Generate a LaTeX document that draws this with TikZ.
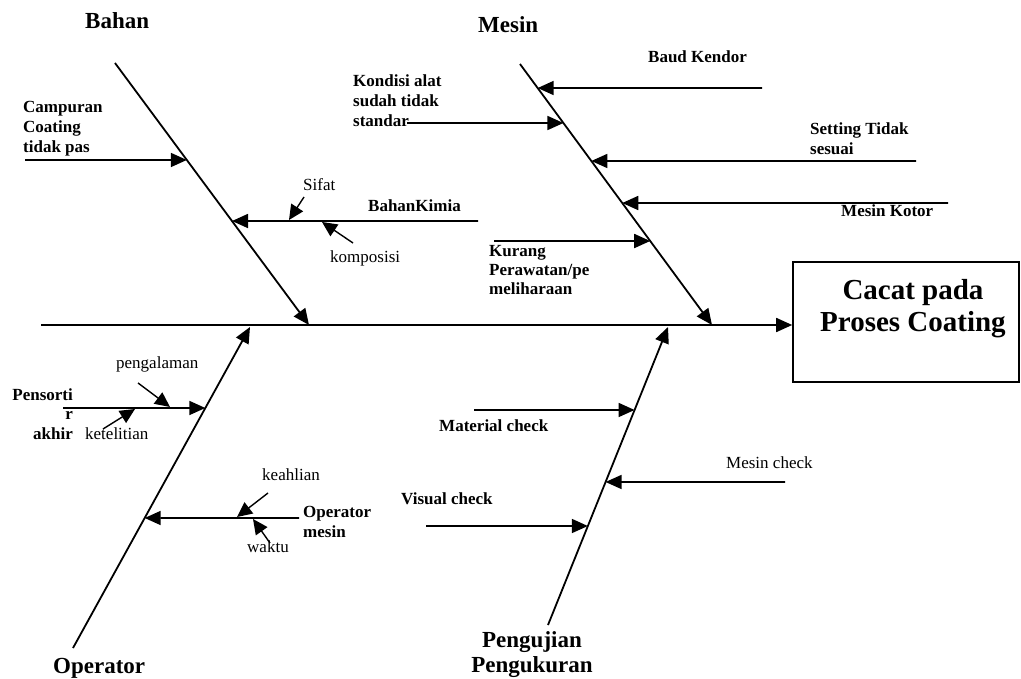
\documentclass[tikz,border=0pt]{standalone}
\usepackage{fontspec}
\setmainfont{Liberation Serif}
\usetikzlibrary{arrows.meta,calc}
\newcommand{\mylinesl}[1]{\begin{tabular}[t]{@{}l@{}}#1\end{tabular}}
\newcommand{\mylinesr}[1]{\begin{tabular}[t]{@{}r@{}}#1\end{tabular}}
\newcommand{\mylinesc}[1]{\begin{tabular}[t]{@{}c@{}}#1\end{tabular}}
\begin{document}
\begin{tikzpicture}[x=1pt,y=-1pt,
  bone/.style={line width=1.8pt,-{Triangle[length=16pt,width=14pt]}},
  twig/.style={line width=1.7pt,-{Triangle[length=16pt,width=14pt]}},
  tiny/.style={line width=1.4pt,-{Triangle[length=15pt,width=14pt]}},
  head/.style={font=\fontsize{23}{25}\selectfont\bfseries,inner sep=0pt},
  lbl/.style={font=\fontsize{17}{20}\selectfont\bfseries,inner sep=0pt,anchor=base west},
  sml/.style={font=\fontsize{17}{20}\selectfont,inner sep=0pt,anchor=base west},
  effbox/.style={draw,line width=1.6pt,minimum width=226pt,minimum height=120pt,inner sep=0pt}]
\useasboundingbox (0,0) rectangle (1021,679);

% effect
\node[effbox] (eff) at (906,322) {};
\node[font=\fontsize{29}{32}\selectfont\bfseries,inner sep=0pt,anchor=base] (efftxt) at (913,300) {\mylinesc{Cacat pada\\Proses Coating}};

% spine
\coordinate (spL) at (41,325);
\draw[bone] (spL) -- (eff.west |- spL);

% main bones
\coordinate (bahanT) at (115,63);  \coordinate (bahanE) at (309,325);
\coordinate (mesinT) at (520,64);  \coordinate (mesinE) at (712,325);
\coordinate (operT) at (73,648);   \coordinate (operE) at (250,327);
\coordinate (ujiT) at (548,625);   \coordinate (ujiE) at (668,327);
\draw[bone] (bahanT) -- (bahanE);
\draw[bone] (mesinT) -- (mesinE);
\draw[bone] (operT) -- (operE);
\draw[bone] (ujiT) -- (ujiE);

% headings
\node[head,anchor=base west] (hBahan) at (85,29) {Bahan};
\node[head,anchor=base west] (hMesin) at (478,33) {Mesin};
\node[head,anchor=base west] (hOper) at (53,673) {Operator};
\node[head,anchor=base] (hUji) at (532,647) {\mylinesc{Pengujian\\Pengukuran}};

% ---- Bahan
\coordinate (campS) at (25,160);
\coordinate (campE) at ($(bahanT)!0.3702!(bahanE)$);
\draw[twig] (campS) -- (campE);
\node[lbl] (tCamp) at (23,113) {\mylinesl{Campuran\\Coating\\tidak pas}};

\coordinate (kimS) at (478,221);
\coordinate (kimE) at ($(bahanT)!0.6031!(bahanE)$);
\draw[twig] (kimS) -- (kimE);
\node[lbl] (tKim) at (368,212) {BahanKimia};

\coordinate (sifS) at (304,197); \coordinate (sifE) at (289,220);
\draw[tiny] (sifS) -- (sifE);
\node[sml] (tSif) at (303,191) {Sifat};
\coordinate (komS) at (353,243); \coordinate (komE) at (322,222);
\draw[tiny] (komS) -- (komE);
\node[sml] (tKom) at (330,263) {komposisi};

% ---- Mesin
\coordinate (baudS) at (762,88);
\coordinate (baudE) at ($(mesinT)!0.0920!(mesinE)$);
\draw[twig] (baudS) -- (baudE);
\node[lbl] (tBaud) at (648,63) {Baud Kendor};

\coordinate (kondS) at (407,123);
\coordinate (kondE) at ($(mesinT)!0.2261!(mesinE)$);
\draw[twig] (kondS) -- (kondE);
\node[lbl] (tKond) at (353,87) {\mylinesl{Kondisi alat\\sudah tidak\\standar}};

\coordinate (setS) at (916,161);
\coordinate (setE) at ($(mesinT)!0.3716!(mesinE)$);
\draw[twig] (setS) -- (setE);
\node[lbl] (tSet) at (810,135) {\mylinesl{Setting Tidak\\sesuai}};

\coordinate (kotS) at (948,203);
\coordinate (kotE) at ($(mesinT)!0.5326!(mesinE)$);
\draw[twig] (kotS) -- (kotE);
\node[lbl] (tKot) at (841,217) {Mesin Kotor};

\coordinate (kurS) at (494,241);
\coordinate (kurE) at ($(mesinT)!0.6782!(mesinE)$);
\draw[twig] (kurS) -- (kurE);
\node[lbl,font=\fontsize{17}{19}\selectfont\bfseries] (tKur) at (489,257) {\mylinesl{Kurang\\Perawatan/pe\\meliharaan}};

% ---- Operator
\coordinate (sortS) at (63,408);
\coordinate (sortE) at ($(operT)!0.7477!(operE)$);
\draw[twig] (sortS) -- (sortE);
\node[lbl,anchor=base east,font=\fontsize{17}{19.5}\selectfont\bfseries] (tSort) at (73,400) {\mylinesr{Pensorti\\r\\akhir}};

\coordinate (pengS) at (138,383); \coordinate (pengE) at (170,407);
\draw[tiny] (pengS) -- (pengE);
\node[sml] (tPeng) at (116,369) {pengalaman};
\coordinate (telS) at (103,429); \coordinate (telE) at (135,409);
\draw[tiny] (telS) -- (telE);
\node[sml] (tTel) at (85,439) {ketelitian};

\coordinate (opmS) at (299,518);
\coordinate (opmE) at ($(operT)!0.4050!(operE)$);
\draw[twig] (opmS) -- (opmE);
\node[lbl] (tOpm) at (303,517) {\mylinesl{Operator\\mesin}};

\coordinate (ahlS) at (268,493); \coordinate (ahlE) at (237,517);
\draw[tiny] (ahlS) -- (ahlE);
\node[sml] (tAhl) at (262,480) {keahlian};
\coordinate (wakS) at (270,543); \coordinate (wakE) at (253,519);
\draw[tiny] (wakS) -- (wakE);
\node[sml] (tWak) at (247,552) {waktu};

% ---- Pengujian
\coordinate (matS) at (474,410);
\coordinate (matE) at ($(ujiT)!0.7215!(ujiE)$);
\draw[twig] (matS) -- (matE);
\node[lbl] (tMat) at (439,431) {Material check};

\coordinate (mchS) at (785,482);
\coordinate (mchE) at ($(ujiT)!0.4799!(ujiE)$);
\draw[twig] (mchS) -- (mchE);
\node[sml] (tMch) at (726,468) {Mesin check};

\coordinate (visS) at (426,526);
\coordinate (visE) at ($(ujiT)!0.3322!(ujiE)$);
\draw[twig] (visS) -- (visE);
\node[lbl] (tVis) at (401,504) {Visual check};
\end{tikzpicture}
\end{document}
